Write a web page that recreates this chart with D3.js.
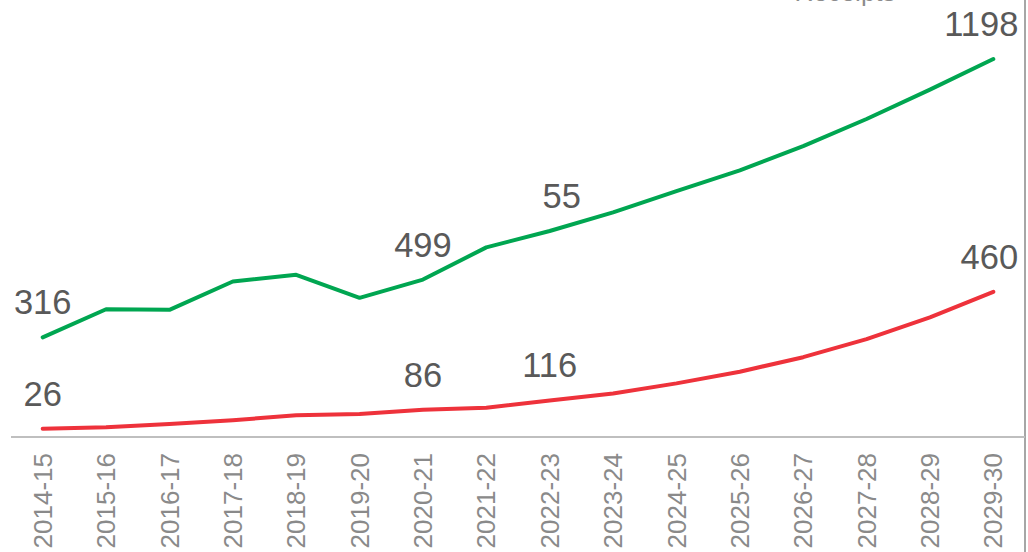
<!DOCTYPE html>
<html>
<head>
<meta charset="utf-8">
<script src="https://cdn.jsdelivr.net/npm/d3@7"></script>
<style>
  html, body { margin: 0; padding: 0; background: #ffffff; }
  svg { display: block; font-family: "Liberation Sans", Arial, sans-serif; }
</style>
</head>
<body>
<svg id="chart" width="1028" height="552"></svg>
<script>
// Fiscal years on the category axis
const years = ["2014-15", "2015-16", "2016-17", "2017-18", "2018-19", "2019-20",
  "2020-21", "2021-22", "2022-23", "2023-24", "2024-25", "2025-26",
  "2026-27", "2027-28", "2028-29", "2029-30"];

// Receipts (green line)
const receipts = [316, 405, 403, 493, 514, 441, 499, 601, 653, 712, 779, 845, 922, 1008, 1101, 1198];

// Second series (red line)
const outlays = [26, 31, 41, 53, 69, 73, 86, 93, 116, 138, 170, 207, 253, 310, 379, 460];

// Data labels: index of the year and the printed text
const receiptLabels = [
  { i: 0, text: "316" }, { i: 6, text: "499" }, { i: 8, text: "55", dx: 12 }, { i: 15, text: "1198", dx: -12 }
];
const outlayLabels = [
  { i: 0, text: "26" }, { i: 6, text: "86" }, { i: 8, text: "116" }, { i: 15, text: "460", dx: -4 }
];

const svg = d3.select("#chart");

const x = d3.scaleBand().domain(years).range([11, 1025]);
const y = d3.scaleLinear().domain([0, 1200]).range([437, 58.4]);
const cx = d => x(d) + x.bandwidth() / 2;

// Legend entry at the top (partly outside the frame)
svg.append("text")
  .attr("x", 845).attr("y", 1)
  .attr("text-anchor", "middle")
  .attr("font-size", 26)
  .attr("fill", "#8c8c8c")
  .text("Receipts");

// Right border
svg.append("line")
  .attr("x1", 1025).attr("x2", 1025)
  .attr("y1", 0).attr("y2", 552)
  .attr("stroke", "#a6a6a6").attr("stroke-width", 2);

// Category axis
const xAxis = svg.append("g")
  .attr("transform", `translate(0,${y(0)})`)
  .call(d3.axisBottom(x).tickSize(0).tickPadding(0));
xAxis.select(".domain").attr("stroke", "#bfbfbf").attr("stroke-width", 2)
  .attr("d", `M${x.range()[0]},0H${x.range()[1]}`);
xAxis.selectAll(".tick text")
  .attr("transform", "rotate(-90)")
  .attr("x", -16).attr("y", 0).attr("dy", "0.35em")
  .attr("text-anchor", "end")
  .attr("font-family", "'Liberation Sans', Arial, sans-serif")
  .attr("font-size", 26)
  .attr("fill", "#8a8a8a");

const line = d3.line()
  .x((d, i) => cx(years[i]))
  .y(d => y(d));

svg.append("path").datum(outlays)
  .attr("d", line)
  .attr("fill", "none")
  .attr("stroke", "#ee323b")
  .attr("stroke-width", 4)
  .attr("stroke-linecap", "round")
  .attr("stroke-linejoin", "round");

svg.append("path").datum(receipts)
  .attr("d", line)
  .attr("fill", "none")
  .attr("stroke", "#00a651")
  .attr("stroke-width", 4)
  .attr("stroke-linecap", "round")
  .attr("stroke-linejoin", "round");

function drawLabels(labels, values) {
  svg.append("g").selectAll("text").data(labels).join("text")
    .attr("x", d => cx(years[d.i]) + (d.dx || 0))
    .attr("y", d => y(values[d.i]) - 23)
    .attr("text-anchor", "middle")
    .attr("font-size", 34.5)
    .attr("fill", "#595959")
    .text(d => d.text);
}
drawLabels(receiptLabels, receipts);
drawLabels(outlayLabels, outlays);
</script>
</body>
</html>
